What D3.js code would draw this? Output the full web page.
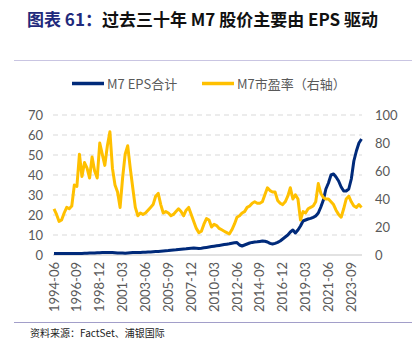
<!DOCTYPE html>
<html>
<head>
<meta charset="utf-8">
<script src="https://cdn.jsdelivr.net/npm/d3@7"></script>
<style>
  body { margin: 0; background: #fff; }
  svg { display: block; }
</style>
</head>
<body>
<svg id="chart" width="412" height="344"></svg>
<script>
// quarterly, starting 1994-06
const startYear = 1994, startMonth = 5

// M7 EPS total (left axis)
const epsValues = [
  0.8, 0.8, 0.8, 0.8, 0.8, 0.8, 0.7, 0.7, 0.7, 0.8,
  0.8, 0.8, 0.9, 0.9, 1.0, 1.0, 1.0, 1.1, 1.1, 1.2,
  1.2, 1.3, 1.3, 1.2, 1.1, 1.0, 1.0, 1.0, 0.9, 1.0,
  1.1, 1.2, 1.2, 1.3, 1.3, 1.4, 1.4, 1.5, 1.5, 1.6,
  1.7, 1.8, 1.9, 2.0, 2.1, 2.2, 2.4, 2.5, 2.6, 2.8,
  2.9, 3.0, 3.1, 3.3, 3.4, 3.5, 3.4, 3.3, 3.4, 3.6,
  3.8, 4.0, 4.2, 4.4, 4.6, 4.8, 5.0, 5.2, 5.4, 5.6,
  5.9, 6.1, 6.2, 5.0, 4.5, 5.0, 5.5, 6.0, 6.3, 6.5,
  6.6, 6.8, 7.0, 6.9, 6.5, 5.8, 5.5, 5.8, 6.3, 7.0,
  8.0, 9.0, 10.0, 11.5, 12.5, 11.0, 12.5, 14.5, 17.0, 17.5,
  18.0, 18.3, 18.8, 19.5, 21.0, 24.0, 27.5, 33.0, 36.0, 40.0,
  40.5, 39.0, 37.0, 34.0, 32.0, 32.0, 33.0, 38.0, 47.0, 52.0,
  56.0, 58.0
]

// M7 P/E (right axis)
const peValues = [
  33, 29, 24, 25, 30, 34, 33, 35, 50, 49,
  72, 56, 66, 62, 55, 70, 60, 55, 80, 72,
  64, 78, 88, 62, 50, 45, 34, 55, 72, 78,
  62, 48, 34, 28, 30, 29, 30, 32, 34, 36,
  42, 44, 36, 30, 31, 30, 28, 29, 31, 33,
  31, 28, 32, 34, 29, 24, 19, 16, 17, 22,
  26, 25, 20, 22, 21, 19, 18, 17, 16, 15,
  18, 22, 27, 28, 30, 31, 34, 35, 37, 38,
  37, 37, 38, 43, 48, 46, 45, 45, 39, 37,
  36, 38, 42, 48, 40, 43, 40, 25, 31, 30,
  33, 34, 35, 38, 51, 44, 41, 40, 40, 38,
  36, 32, 29, 27, 33, 40, 42, 38, 35, 34,
  36, 34
]

const leftTicks = [0, 10, 20, 30, 40, 50, 60, 70]
const rightTicks = [0, 20, 40, 60, 80, 100]
const tickEvery = 9

const dates = epsValues.map((_, i) => new Date(startYear, startMonth + 3 * i, 1))
const rows = dates.map((d, i) => ({ date: d, eps: epsValues[i], pe: peValues[i] }))

const svg = d3.select('#chart')
const cjk = '"Noto Sans CJK SC", "Noto Sans", sans-serif'
const num = 'Lato, "Liberation Sans", sans-serif'

const x = d3.scaleTime().domain(d3.extent(dates)).range([54, 361.5])
const yL = d3.scaleLinear().domain([0, 70]).range([255, 115])
const yR = d3.scaleLinear().domain([0, 100]).range([255, 115])

// title
const title = svg.append('text')
  .attr('x', 27).attr('y', 26)
  .style('font-family', cjk).style('font-size', '17px').style('font-weight', 700)
title.append('tspan').attr('fill', '#1f2a7c').text('图表 61：')
title.append('tspan').attr('fill', '#111').text('过去三十年 M7 股价主要由 EPS 驱动')

svg.append('line').attr('x1', 14).attr('x2', 412).attr('y1', 60.5).attr('y2', 60.5)
  .attr('stroke', '#c9c5e2').attr('stroke-width', 1)

// legend
const legend = [
  { label: 'M7 EPS合计', color: '#002a7a', x: 72 },
  { label: 'M7市盈率（右轴）', color: '#ffc000', x: 202 }
]
const lg = svg.append('g').selectAll('g').data(legend).enter().append('g')
lg.append('line')
  .attr('x1', d => d.x).attr('x2', d => d.x + 32)
  .attr('y1', 83.5).attr('y2', 83.5)
  .attr('stroke', d => d.color).attr('stroke-width', 3.5)
lg.append('text')
  .attr('x', d => d.x + 35).attr('y', 88.5)
  .attr('fill', '#595959')
  .style('font-family', cjk).style('font-size', '13px')
  .text(d => d.label)

// gridlines
svg.append('g').selectAll('line').data(leftTicks.filter(t => t > 0)).enter().append('line')
  .attr('x1', 53).attr('x2', 362)
  .attr('y1', d => yL(d)).attr('y2', d => yL(d))
  .attr('stroke', '#d9d9d9').attr('stroke-width', 1).attr('stroke-dasharray', '5,4')

svg.append('line').attr('x1', 53).attr('x2', 362).attr('y1', yL(0)).attr('y2', yL(0))
  .attr('stroke', '#d9d9d9').attr('stroke-width', 1.5)

// axes
const leftAxis = svg.append('g').attr('transform', 'translate(43,0)')
  .call(d3.axisLeft(yL).tickValues(leftTicks).tickSize(0).tickPadding(0))
const rightAxis = svg.append('g').attr('transform', 'translate(375,0)')
  .call(d3.axisRight(yR).tickValues(rightTicks).tickSize(0).tickPadding(0))
;[leftAxis, rightAxis].forEach(a => {
  a.select('.domain').remove()
  a.selectAll('text').attr('fill', '#595959')
    .style('font-family', num).style('font-size', '13px')
})

const fmt = d3.timeFormat('%Y-%m')
const xAxis = svg.append('g').attr('transform', 'translate(0,262)')
  .call(d3.axisBottom(x).tickValues(dates.filter((_, i) => i % tickEvery === 0))
    .tickFormat(fmt).tickSize(0).tickPadding(0))
xAxis.select('.domain').remove()
xAxis.selectAll('text')
  .attr('fill', '#595959')
  .style('font-family', num).style('font-size', '13px')
  .attr('text-anchor', 'end')
  .attr('dy', '0.35em')
  .attr('transform', 'rotate(-90)')
  .attr('x', 0).attr('y', 0)
xAxis.selectAll('.tick').attr('transform', d => `translate(${x(d)},0)`)

// series
svg.append('path').datum(rows)
  .attr('fill', 'none').attr('stroke', '#002a7a').attr('stroke-width', 3)
  .attr('stroke-linejoin', 'round')
  .attr('d', d3.line().x(d => x(d.date)).y(d => yL(d.eps)))

svg.append('path').datum(rows)
  .attr('fill', 'none').attr('stroke', '#ffc000').attr('stroke-width', 3)
  .attr('stroke-linejoin', 'round')
  .attr('d', d3.line().x(d => x(d.date)).y(d => yR(d.pe)))

// source
svg.append('line').attr('x1', 14).attr('x2', 412).attr('y1', 322.5).attr('y2', 322.5)
  .attr('stroke', '#a29ec9').attr('stroke-width', 1)
svg.append('text').attr('x', 30).attr('y', 337)
  .attr('fill', '#222')
  .style('font-family', cjk).style('font-size', '10px')
  .text('资料来源：FactSet、浦银国际')
</script>
</body>
</html>
